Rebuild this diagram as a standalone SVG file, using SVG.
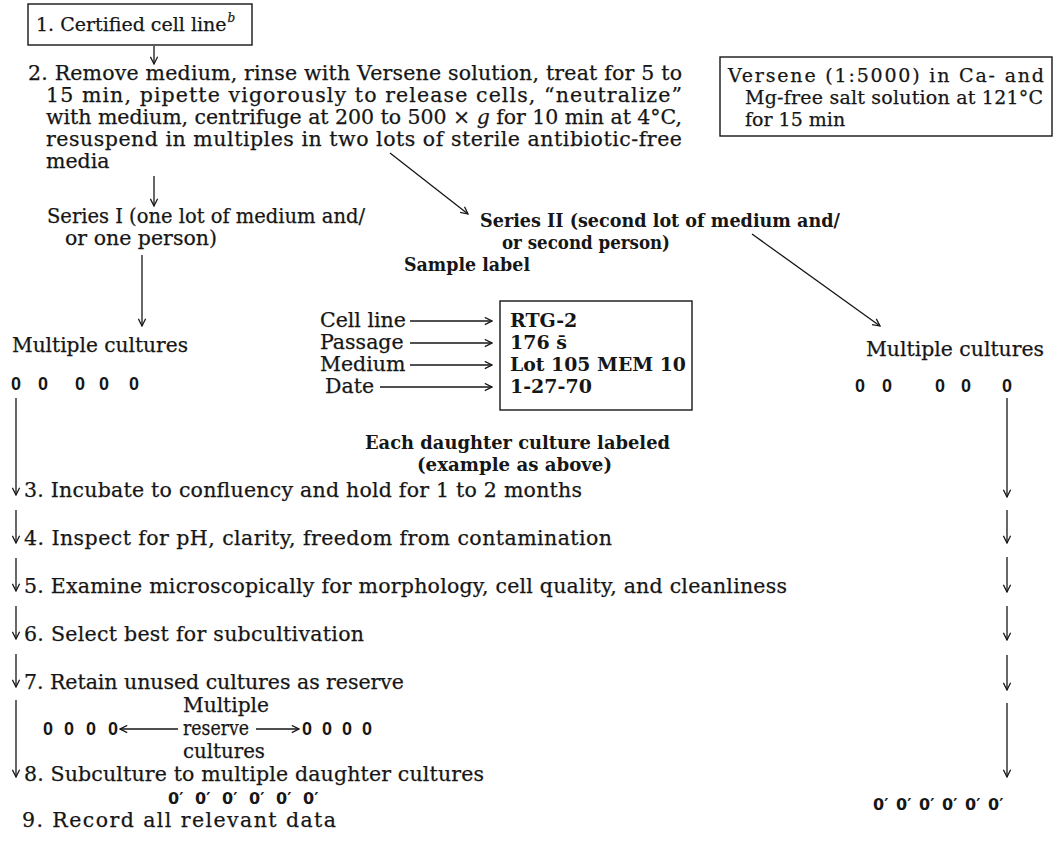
<svg xmlns="http://www.w3.org/2000/svg" width="1056" height="842" viewBox="0 0 1056 842">
<style>
.t{font-family:"DejaVu Serif","Liberation Serif",serif;font-size:20.5px;fill:#161616;stroke:#161616;stroke-width:0.25}
.b{font-weight:bold;stroke-width:0}
.s{font-size:19px}
.sup{font-size:12px;font-style:italic}
.z{font-family:"Liberation Sans","DejaVu Sans",sans-serif;font-size:18px;font-weight:bold;fill:#161616}
.zp{font-family:"DejaVu Sans",sans-serif;font-size:16px;font-weight:bold;fill:#161616}
.bx{fill:none;stroke:#161616;stroke-width:1.4}
.ln{fill:none;stroke:#161616;stroke-width:1.3}
</style>
<defs>
<marker id="ah" viewBox="0 0 10 10" refX="9" refY="5" markerWidth="9" markerHeight="9" markerUnits="userSpaceOnUse" orient="auto">
<path d="M1,1 L9,5 L1,9" fill="none" stroke="#161616" stroke-width="1.4"/>
</marker>
</defs>
<rect width="1056" height="842" fill="#fff"/>

<g id="step1">
<rect class="bx" x="28" y="4" width="224" height="41"/>
<text class="t s" x="36" y="31">1. Certified cell line<tspan class="sup" dy="-9" dx="1">b</tspan></text>
</g>

<g id="step2">
<text class="t" x="28" y="80" textLength="654" lengthAdjust="spacing">2. Remove medium, rinse with Versene solution, treat for 5 to</text>
<text class="t" x="46" y="102" textLength="636" lengthAdjust="spacing">15 min, pipette vigorously to release cells, “neutralize”</text>
<text class="t" x="46" y="124" textLength="636" lengthAdjust="spacing">with medium, centrifuge at 200 to 500 × <tspan font-style="italic">g</tspan> for 10 min at 4°C,</text>
<text class="t" x="46" y="146" textLength="636" lengthAdjust="spacing">resuspend in multiples in two lots of sterile antibiotic-free</text>
<text class="t" x="46" y="168">media</text>
</g>

<g id="versene">
<rect class="bx" x="720" y="57" width="332" height="79"/>
<text class="t s" x="728" y="82" textLength="316" lengthAdjust="spacing">Versene (1:5000) in Ca- and</text>
<text class="t s" x="745" y="104" textLength="298" lengthAdjust="spacing">Mg-free salt solution at 121°C</text>
<text class="t s" x="745" y="126">for 15 min</text>
</g>

<g id="series1">
<text class="t" x="47" y="223" textLength="318" lengthAdjust="spacingAndGlyphs">Series I (one lot of medium and/</text>
<text class="t" x="65" y="245">or one person)</text>
</g>

<g id="series2">
<text class="t b s" x="480" y="227" textLength="360" lengthAdjust="spacingAndGlyphs">Series II (second lot of medium and/</text>
<text class="t b s" x="502" y="249" textLength="168" lengthAdjust="spacingAndGlyphs">or second person)</text>
</g>

<g id="sample-label">
<text class="t b s" x="404" y="271" textLength="126" lengthAdjust="spacingAndGlyphs">Sample label</text>
<text class="t" x="320" y="327">Cell line</text>
<text class="t" x="320" y="349">Passage</text>
<text class="t" x="320" y="371">Medium</text>
<text class="t" x="325" y="393">Date</text>
<rect class="bx" x="500" y="301" width="192" height="109"/>
<text class="t b s" x="510" y="327">RTG-2</text>
<text class="t b s" x="510" y="349">176 s̄</text>
<text class="t b s" x="510" y="371" textLength="176" lengthAdjust="spacingAndGlyphs">Lot 105 MEM 10</text>
<text class="t b s" x="510" y="393">1-27-70</text>
</g>

<g id="cultures1">
<text class="t" x="12" y="352" textLength="176" lengthAdjust="spacingAndGlyphs">Multiple cultures</text>
<text class="z" text-anchor="middle" y="390"><tspan x="16">0</tspan><tspan x="43">0</tspan><tspan x="80">0</tspan><tspan x="104">0</tspan><tspan x="134">0</tspan></text>
</g>

<g id="cultures2">
<text class="t" x="866" y="356" textLength="178" lengthAdjust="spacingAndGlyphs">Multiple cultures</text>
<text class="z" text-anchor="middle" y="392"><tspan x="860">0</tspan><tspan x="887">0</tspan><tspan x="940">0</tspan><tspan x="966">0</tspan><tspan x="1007">0</tspan></text>
</g>

<g id="daughter-label">
<text class="t b s" x="365" y="449" textLength="305" lengthAdjust="spacingAndGlyphs">Each daughter culture labeled</text>
<text class="t b s" x="417" y="471" textLength="195" lengthAdjust="spacingAndGlyphs">(example as above)</text>
</g>

<g id="step3"><text class="t" x="24" y="497" textLength="558" lengthAdjust="spacing">3. Incubate to confluency and hold for 1 to 2 months</text></g>
<g id="step4"><text class="t" x="24" y="545" textLength="588" lengthAdjust="spacing">4. Inspect for pH, clarity, freedom from contamination</text></g>
<g id="step5"><text class="t" x="24" y="593" textLength="763" lengthAdjust="spacing">5. Examine microscopically for morphology, cell quality, and cleanliness</text></g>
<g id="step6"><text class="t" x="24" y="641" textLength="340" lengthAdjust="spacing">6. Select best for subcultivation</text></g>
<g id="step7"><text class="t" x="24" y="689" textLength="380" lengthAdjust="spacing">7. Retain unused cultures as reserve</text></g>

<g id="reserve">
<text class="t" x="183" y="712" textLength="86" lengthAdjust="spacingAndGlyphs">Multiple</text>
<text class="t" x="183" y="735" textLength="66" lengthAdjust="spacingAndGlyphs">reserve</text>
<text class="t" x="183" y="758" textLength="82" lengthAdjust="spacingAndGlyphs">cultures</text>
<text class="z" text-anchor="middle" y="735"><tspan x="48">0</tspan><tspan x="69">0</tspan><tspan x="91">0</tspan><tspan x="113">0</tspan><tspan x="307">0</tspan><tspan x="327">0</tspan><tspan x="347">0</tspan><tspan x="367">0</tspan></text>
</g>

<g id="step8">
<text class="t" x="24" y="781" textLength="460" lengthAdjust="spacing">8. Subculture to multiple daughter cultures</text>
<text class="zp" y="804"><tspan x="168">0′</tspan><tspan x="195">0′</tspan><tspan x="222">0′</tspan><tspan x="249">0′</tspan><tspan x="276">0′</tspan><tspan x="303">0′</tspan></text>
</g>

<g id="daughters2">
<text class="zp" y="810"><tspan x="873">0′</tspan><tspan x="896">0′</tspan><tspan x="919">0′</tspan><tspan x="942">0′</tspan><tspan x="965">0′</tspan><tspan x="988">0′</tspan></text>
</g>

<g id="step9"><text class="t" x="22" y="827" textLength="314" lengthAdjust="spacing">9. Record all relevant data</text></g>

<g id="connectors" class="ln" marker-end="url(#ah)">
<line x1="154" y1="46" x2="154" y2="64"/>
<line x1="154" y1="176" x2="154" y2="206"/>
<line x1="390" y1="153" x2="468" y2="214"/>
<line x1="752" y1="234" x2="880" y2="326"/>
<line x1="142" y1="255" x2="142" y2="326"/>
<line x1="410" y1="321" x2="492" y2="321"/>
<line x1="410" y1="343" x2="492" y2="343"/>
<line x1="410" y1="365" x2="492" y2="365"/>
<line x1="380" y1="387" x2="492" y2="387"/>
<line x1="16" y1="398" x2="16" y2="495"/>
<line x1="16" y1="510" x2="16" y2="543"/>
<line x1="16" y1="558" x2="16" y2="591"/>
<line x1="16" y1="606" x2="16" y2="639"/>
<line x1="16" y1="654" x2="16" y2="687"/>
<line x1="16" y1="700" x2="16" y2="777"/>
<line x1="178" y1="729" x2="120" y2="729"/>
<line x1="256" y1="729" x2="299" y2="729"/>
<line x1="1007" y1="398" x2="1007" y2="497"/>
<line x1="1007" y1="510" x2="1007" y2="543"/>
<line x1="1007" y1="557" x2="1007" y2="592"/>
<line x1="1007" y1="606" x2="1007" y2="640"/>
<line x1="1007" y1="655" x2="1007" y2="690"/>
<line x1="1007" y1="703" x2="1007" y2="777"/>
</g>
</svg>
